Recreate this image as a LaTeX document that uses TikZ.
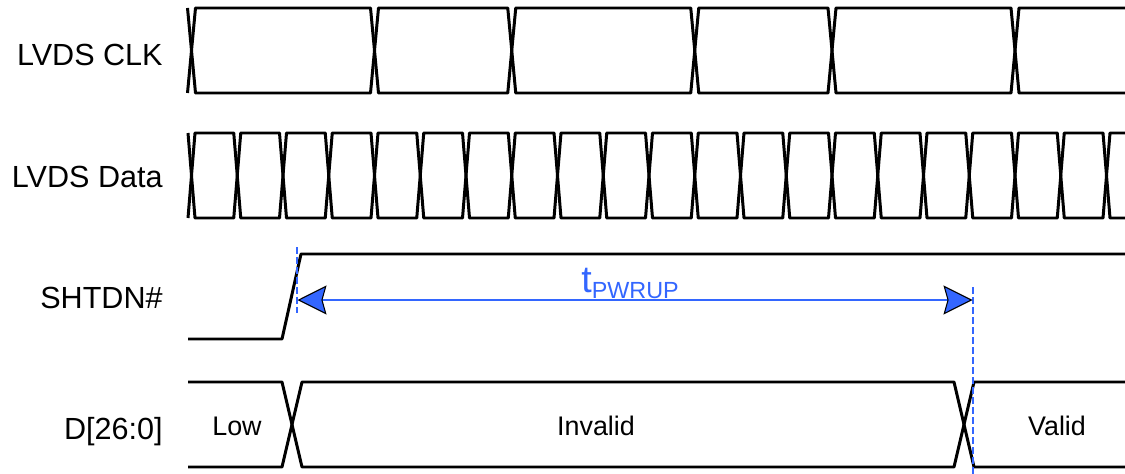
\documentclass[tikz,border=0pt]{standalone}
\usepackage{fontspec}
\setmainfont{Liberation Sans}
\usetikzlibrary{arrows.meta}
\definecolor{tblue}{RGB}{51,102,255}
\tikzstyle{wave} = [draw=black, line width=1.7pt, line join=round]
\tikzstyle{siglabel} = [anchor=base east, inner sep=0pt, font=\fontsize{17.4pt}{20pt}\selectfont]
\tikzstyle{buslabel} = [anchor=base, inner sep=0pt, font=\fontsize{15.3pt}{18pt}\selectfont]
\tikzstyle{markline} = [tblue, line width=1.2pt, dash pattern=on 3.8pt off 1.9pt]
\tikzstyle{dimarrow} = [tblue, line width=0.6pt, {Stealth[length=0.58cm, width=0.58cm, inset=0.08cm, color=black, fill=tblue]}-{Stealth[length=0.58cm, width=0.58cm, inset=0.08cm, color=black, fill=tblue]}]
\begin{document}
\begin{tikzpicture}[x=0.02cm, y=-0.02cm]
\useasboundingbox (0,0) rectangle (1125,473);

% signal names
\node (clk) [siglabel] at (163,65.7) {LVDS CLK};
\node (data) [siglabel] at (163,187.3) {LVDS Data};
\node (shtdn) [siglabel] at (163,308.3) {SHTDN\#};
\node (dbus) [siglabel] at (163,439) {D[26:0]};

% LVDS CLK
\draw [wave] (187.5,8) -- (191.5,50.5) -- (187.5,93);
\foreach \xa/\xb in {191.5/374.5, 374.5/511.75, 511.75/694.75, 694.75/832, 832/1015}
  \draw [wave] (\xa,50.5) -- (\xa+4,8) -- (\xb-4,8) -- (\xb,50.5) -- (\xb-4,93) -- (\xa+4,93) -- cycle;
\draw [wave] (1130,8) -- (1019,8) -- (1015,50.5) -- (1019,93) -- (1130,93);

% LVDS Data
\draw [wave] (188,133) -- (191.5,175.5) -- (188,218);
\foreach \k in {0,...,19} {
  \pgfmathsetmacro\xa{191.5+45.75*\k}
  \pgfmathsetmacro\xb{\xa+45.75}
  \draw [wave] (\xa,175.5) -- (\xa+3.5,133) -- (\xb-3.5,133) -- (\xb,175.5) -- (\xb-3.5,218) -- (\xa+3.5,218) -- cycle;
}
\draw [wave] (1130,133) -- (1110,133) -- (1106.5,175.5) -- (1110,218) -- (1130,218);

% SHTDN#
\draw [wave] (188,339) -- (282,339) -- (301,254) -- (1130,254);

% D[26:0]
\draw [wave] (188,382) -- (282,382) -- (302,467) -- (954,467) -- (974,382) -- (1130,382);
\draw [wave] (188,467) -- (282,467) -- (302,382) -- (954,382) -- (974,467) -- (1130,467);
\node (low) [buslabel] at (237,435.5) {Low};
\node (invalid) [buslabel] at (596,435.5) {Invalid};
\node (valid) [buslabel] at (1057,435.5) {Valid};

% t_PWRUP
\coordinate (marka) at (297,247);
\coordinate (markb) at (297,313);
\coordinate (markc) at (973,287);
\coordinate (markd) at (973,475);
\draw [markline] (marka) -- (markb);
\draw [markline] (markc) -- (markd);
\coordinate (pwrstart) at (297.5,300);
\coordinate (pwrend) at (972.5,300);
\draw [dimarrow] (pwrstart) -- (pwrend);
\node (tpwrup) [anchor=base west, inner sep=0pt, text=tblue] at (581,292)
  {\fontsize{21.4pt}{24pt}\selectfont t\raisebox{-0.12cm}{\fontsize{13.3pt}{15pt}\selectfont PWRUP}};

\end{tikzpicture}
\end{document}
